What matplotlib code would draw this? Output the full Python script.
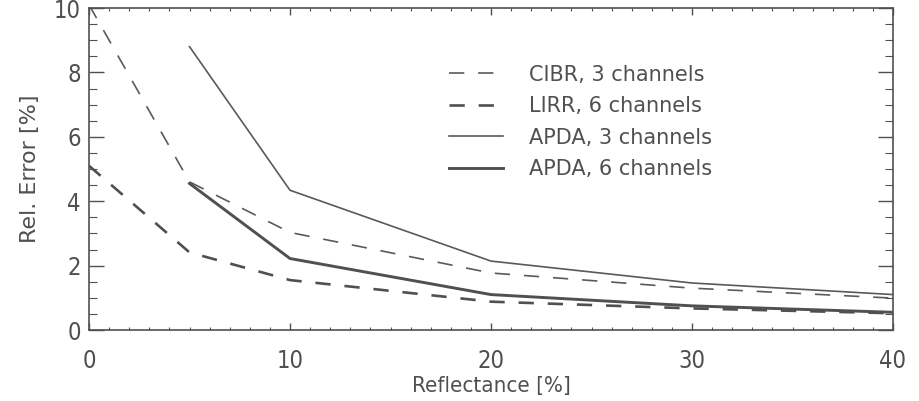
import matplotlib
matplotlib.use("Agg")
import matplotlib.pyplot as plt
from matplotlib.ticker import MultipleLocator

# data
refl_cibr = [0, 5, 10, 20, 30, 40]
err_cibr = [10.1, 4.6, 3.03, 1.77, 1.30, 0.99]

refl_lirr = [0, 5, 10, 20, 30, 40]
err_lirr = [5.1, 2.41, 1.55, 0.88, 0.67, 0.52]

refl_apda3 = [5, 10, 20, 30, 40]
err_apda3 = [8.8, 4.34, 2.14, 1.46, 1.10]

refl_apda6 = [5, 10, 20, 30, 40]
err_apda6 = [4.55, 2.22, 1.10, 0.75, 0.55]

labels = ["CIBR, 3 channels", "LIRR, 6 channels",
          "APDA, 3 channels", "APDA, 6 channels"]

plt.rcParams['font.family'] = ['DejaVu Sans']
plt.rcParams['font.stretch'] = 'condensed'
plt.rcParams['font.weight'] = 'light'
plt.rcParams['lines.scale_dashes'] = False

ink = '#505050'
W, H = 919, 401
fig = plt.figure(figsize=(W / 100, H / 100), dpi=100)
ax = fig.add_axes([89 / W, 1 - 330 / H, (893 - 89) / W, (330 - 8) / H])

ax.plot(refl_cibr, err_cibr, color='#5a5a5a', lw=1.2, dashes=(11, 10),
        label=labels[0])
ax.plot(refl_lirr, err_lirr, color='#505050', lw=1.9, dashes=(11, 10),
        label=labels[1])
ax.plot(refl_apda3, err_apda3, color='#5a5a5a', lw=1.2, label=labels[2])
ax.plot(refl_apda6, err_apda6, color='#505050', lw=2.1, label=labels[3])

ax.set_xlim(0, 40)
ax.set_ylim(0, 10)
ax.xaxis.set_major_locator(MultipleLocator(10))
ax.xaxis.set_minor_locator(MultipleLocator(1))
ax.yaxis.set_major_locator(MultipleLocator(2))
ax.yaxis.set_minor_locator(MultipleLocator(0.5))

ax.tick_params(axis='both', which='both', direction='in', top=True,
               right=True, color=ink, labelcolor=ink, labelsize=17)
ax.tick_params(axis='x', which='major', length=5, width=1, pad=14)
ax.tick_params(axis='x', which='minor', length=2.5, width=0.8)
ax.tick_params(axis='y', which='major', length=10.8, width=1, pad=6)
ax.tick_params(axis='y', which='minor', length=5.8, width=0.8)
for sp in ax.spines.values():
    sp.set_color(ink)
    sp.set_linewidth(1.2)

ax.set_xlabel("Reflectance [%]", fontsize=16, color=ink, labelpad=2)
ax.set_ylabel("Rel. Error [%]", fontsize=16, color=ink, labelpad=10,
              fontstretch='normal')

leg = ax.legend(loc='upper left', bbox_to_anchor=(0.437, 0.85), frameon=False,
                prop={'size': 15, 'stretch': 'normal', 'weight': 'normal'},
                handlelength=2.6, handletextpad=1.25,
                labelspacing=0.55, borderaxespad=0)
for t in leg.get_texts():
    t.set_color(ink)

fig.savefig("out.png", dpi=100)
